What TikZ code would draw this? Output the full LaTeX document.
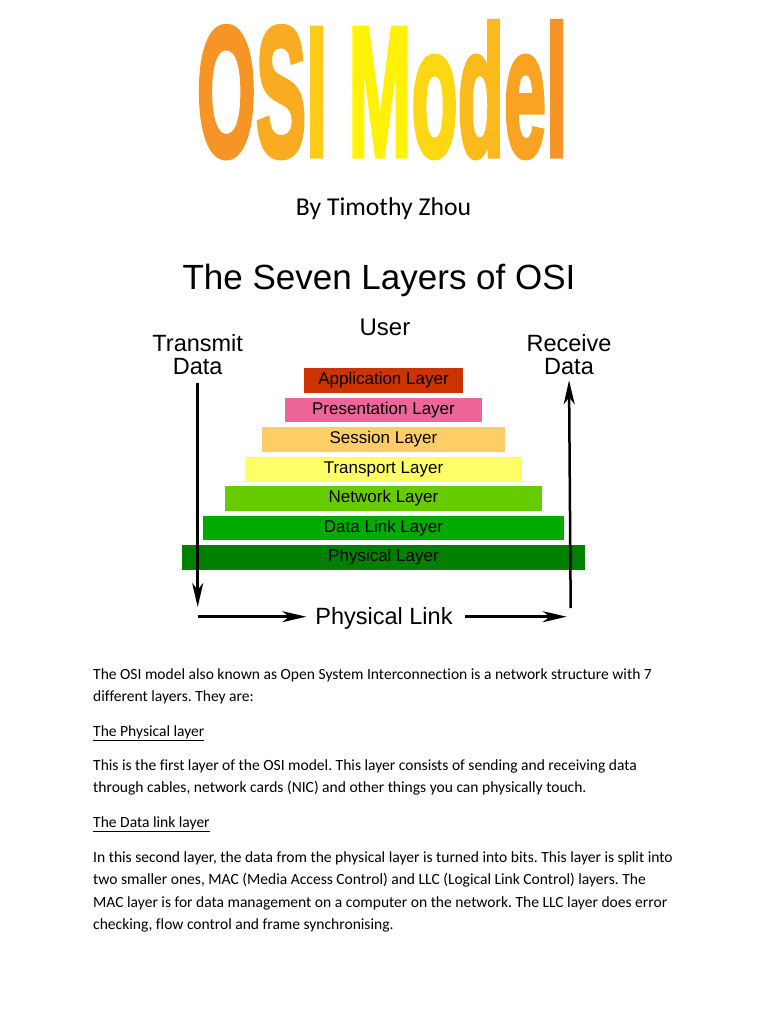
\documentclass[tikz,border=0pt]{standalone}
\usepackage{graphicx}
\usepackage{fontspec}
\setmainfont{Carlito}[Ligatures=NoCommon]
\newfontfamily\arialfont{Liberation Sans}
\newfontfamily\impactfont{Liberation Sans}[BoldFeatures={FakeBold=3}]
\usetikzlibrary{arrows.meta}
\frenchspacing

\definecolor{applcol}{RGB}{204,51,0}
\definecolor{prescol}{RGB}{238,102,153}
\definecolor{sesscol}{RGB}{255,204,102}
\definecolor{trancol}{RGB}{255,255,102}
\definecolor{netwcol}{RGB}{102,204,0}
\definecolor{dlnkcol}{RGB}{0,170,0}
\definecolor{physcol}{RGB}{0,128,0}
\definecolor{grada}{RGB}{247,148,38}
\definecolor{gradb}{RGB}{249,172,34}
\definecolor{gradc}{RGB}{252,204,24}
\definecolor{gradd}{RGB}{255,242,8}
\definecolor{grade}{RGB}{253,214,20}
\definecolor{gradf}{RGB}{250,186,30}
\definecolor{gradg}{RGB}{248,164,34}

\newcommand{\osititle}{\resizebox{370pt}{134pt}{\impactfont\bfseries
 \textcolor{grada}{O}\textcolor{gradb}{S}\textcolor{gradc}{I} \textcolor{gradd}{M}\textcolor{grade}{o}\textcolor{gradf}{d}\textcolor{gradg}{e}\textcolor{grada}{l}}}
\newcommand{\layerbox}[5]{\node[layer, fill=#2, minimum width=#3pt] (#1) at (383.5,#4) {#5}}
\newcommand{\bodyline}[3]{\node[body] (#1) at (93,#2) {#3}}

\tikzset{
 layer/.style={minimum height=24.5pt, inner sep=0pt,
  font=\arialfont\fontsize{17}{18}\selectfont},
 sidetext/.style={align=center, inner sep=0pt,
  font=\arialfont\fontsize{23.5}{23}\selectfont},
 flow/.style={line width=2.5pt, -{Stealth[length=24pt,width=11pt,inset=7pt]}},
 body/.style={anchor=base west, inner sep=0pt, font=\fontsize{15.55}{17}\selectfont},
}

\begin{document}
\begin{tikzpicture}[x=1pt,y=-1pt]
\useasboundingbox (0,0) rectangle (768,1024);
%
 \node[inner sep=0pt] (title) at (382,89.7) {\osititle};
%
 \node[anchor=base, inner sep=0pt, font=\fontsize{25.7}{30}\selectfont] (author) at (383.5,216) {By Timothy Zhou};
 \node[anchor=base, inner sep=0pt, font=\arialfont\fontsize{35}{40}\selectfont] (heading) at (379,289.5) {The Seven Layers of OSI};
 \node[anchor=base, inner sep=0pt, font=\arialfont\fontsize{24}{28}\selectfont] (user) at (385,335.6) {User};
%
 \node[sidetext] (txdata) at (197.7,355) {Transmit\\Data};
 \node[sidetext] (rxdata) at (569,355) {Receive\\Data};
%
 \layerbox{appl}{applcol}{158.3}{380.5}{Application Layer};
 \layerbox{pres}{prescol}{196.3}{409.9}{Presentation Layer};
 \layerbox{sess}{sesscol}{243}{439.3}{Session Layer};
 \layerbox{tran}{trancol}{277}{469.3}{Transport Layer};
 \layerbox{netw}{netwcol}{316.7}{498.5}{Network Layer};
 \layerbox{dlnk}{dlnkcol}{361}{527.8}{Data Link Layer};
 \layerbox{phys}{physcol}{403.3}{557.5}{Physical Layer};
%
 \node[anchor=base, inner sep=0pt, font=\arialfont\fontsize{23.5}{28}\selectfont] (plink) at (384,624.5) {Physical Link};
 \coordinate (txend) at (197.7,607);
 \coordinate (lkstart) at (197.7,616.7);
 \coordinate (lkend) at (566.7,616.7);
 \coordinate (rxstart) at (570.7,608);
%
 \draw[flow, shorten <=8pt] (txdata.south) -- (txend);
 \draw[flow, shorten >=5pt] (rxstart) -- (rxdata.south);
 \draw[flow, shorten >=9pt] (lkstart) -- (lkstart -| plink.west);
 \draw[flow, shorten <=12pt] (lkend -| plink.east) -- (lkend);
%
 \bodyline{introa}{679}{The OSI model also known as Open System Interconnection is a network structure with 7};
 \bodyline{introb}{701.5}{different layers. They are:};
 \bodyline{physhead}{736}{\underline{The Physical layer}};
 \bodyline{physa}{770}{This is the first layer of the OSI model. This layer consists of sending and receiving data};
 \bodyline{physb}{792.5}{through cables, network cards (NIC) and other things you can physically touch.};
 \bodyline{dlnkhead}{827}{\underline{The Data link layer}};
 \bodyline{dlnka}{862}{In this second layer, the data from the physical layer is turned into bits. This layer is split into};
 \bodyline{dlnkb}{884.5}{two smaller ones, MAC (Media Access Control) and LLC (Logical Link Control) layers. The};
 \bodyline{dlnkc}{907}{MAC layer is for data management on a computer on the network. The LLC layer does error};
 \bodyline{dlnkd}{929.5}{checking, flow control and frame synchronising.};
%
\end{tikzpicture}
\end{document}
